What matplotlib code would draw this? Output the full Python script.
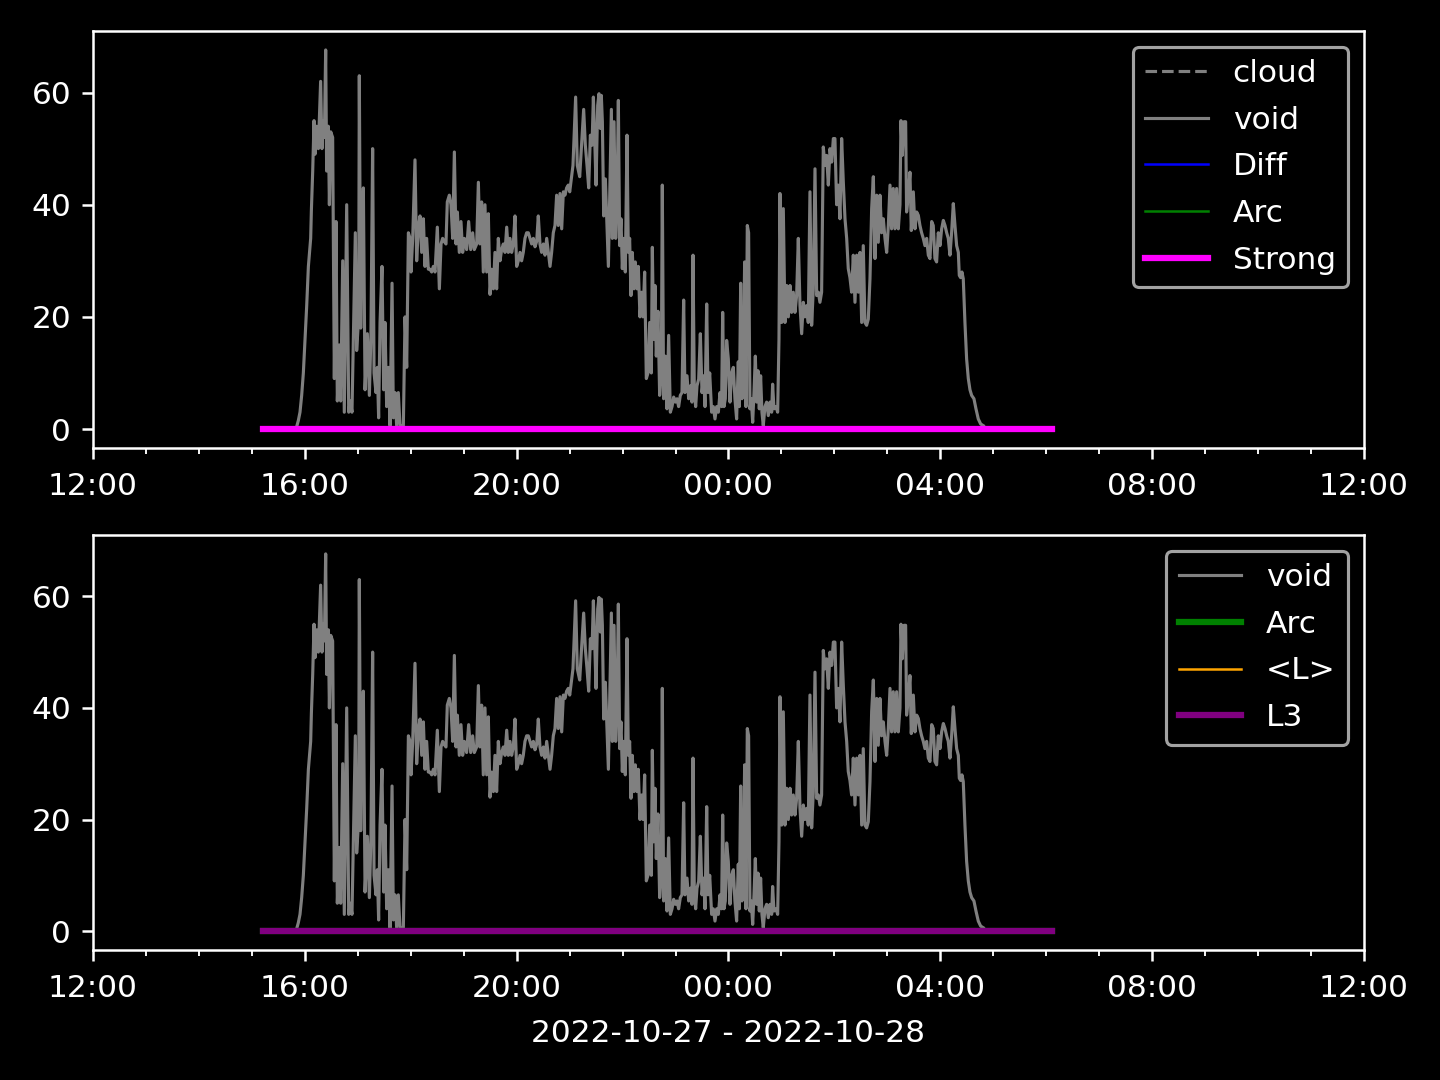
import numpy as np
import matplotlib
matplotlib.use("Agg")
import matplotlib.pyplot as plt
import matplotlib.dates as mdates

plt.style.use("dark_background")

# ---- data: minutes after 2022-10-27 12:00 and "void" values ----
t_seg1 = [230.7, 232.6, 234.5, 236.4, 238.3, 240.2, 242.1, 244.0, 246.6, 247.4, 248.9, 250.4, 251.5,
          253.4, 255.3, 257.9, 259.4, 261.0, 262.1, 263.6, 264.7, 266.6, 267.8, 269.3, 271.5, 273.4,
          275.3, 276.8, 279.1, 280.6, 282.9, 284.7, 287.4, 289.7, 291.5, 293.4, 295.7, 297.2, 298.7,
          301.0, 301.7, 303.3, 304.4, 306.3, 308.2, 310.8, 313.1, 314.9, 316.8, 318.4, 320.6, 322.1,
          323.6, 325.2, 327.4, 329.3, 330.8, 332.7, 334.6, 336.5, 338.8, 340.3, 342.2, 344.0, 345.9,
          347.8, 351.6, 353.5, 355.4, 357.3, 359.2, 360.3, 362.2, 364.8, 366.7, 368.6, 370.5, 372.4,
          374.3, 376.1, 378.0, 379.9]
v_seg1 = [0.4, 1.5, 3, 6, 10, 16, 22, 29, 34, 39, 46, 55, 49,
          54, 50, 62, 50, 55, 52, 67.6, 46, 54, 40, 53, 52, 9,
          37, 5, 15, 5, 30, 3, 40, 3, 5, 3, 23, 35, 14,
          20, 63, 18, 34, 43, 7, 17, 6, 17, 50, 10, 6.5, 11,
          2, 19, 29, 7, 19, 4, 11, 0.6, 26, 2, 6.5, 0.6, 6.5,
          0.6, 0.6, 20, 11, 35, 34, 28, 34, 48, 30, 36, 38, 31.5,
          37.5, 29, 34, 28.5]

t_seg2 = [381.8, 383.7, 385.6, 387.5, 390.1, 392.4, 394.3, 396.1, 397.7, 399.9, 401.4, 403.7, 405.6,
          407.5, 409.4, 411.3, 412.8, 415.0, 416.9, 418.8, 420.7, 423.3, 425.6, 427.9, 430.1, 432.0,
          434.7, 436.6, 438.4, 440.3, 442.2, 444.1, 446.0, 447.9, 449.8, 451.7, 453.6, 455.4, 457.3,
          459.2, 461.1, 463.0, 464.9, 466.8, 468.7, 470.5, 472.4, 474.3, 476.2, 478.1, 480.0, 481.9,
          483.8, 485.6, 487.5, 489.4, 491.3, 493.2, 495.1, 497.0, 498.9, 500.8, 502.7, 504.5, 506.4,
          508.3, 510.2, 512.1, 514.0, 515.9, 517.8, 519.6, 521.5, 523.4, 525.3, 527.2, 529.1, 531.0,
          532.9, 534.7, 536.6, 538.5]
v_seg2 = [28.5, 28, 29, 28, 36, 25, 33, 34, 33.5, 33, 40.5, 41.7, 40,
          34, 49.4, 33, 38.7, 31.5, 37, 31.5, 34, 32, 37, 32, 35, 32,
          33, 44, 33, 40.5, 28, 40, 28, 38.4, 24, 28.5, 25, 31.5, 25,
          34, 30, 32, 33, 31.5, 36, 31.5, 34, 31.5, 33, 38, 29, 30,
          31.5, 30, 31.5, 34, 35, 35, 34, 33, 34, 32.5, 33.5, 38, 33,
          31.5, 33, 31, 34, 31.5, 29, 31.5, 35, 36.3, 41.7, 36.3, 42, 35.7,
          42.3, 41.7, 43, 43.5]

t_seg3 = [540.1, 541.9, 543.8, 546.8, 548.7, 551.4, 553.3, 555.9, 557.8, 559.7, 561.6, 563.5, 565.4,
          566.9, 568.4, 569.9, 571.8, 573.3, 574.8, 575.9, 577.1, 578.6, 580.5, 582.3, 583.9, 585.4,
          587.3, 588.4, 590.3, 592.2, 593.7, 595.2, 596.7, 598.2, 599.7, 601.2, 603.1, 605.0, 606.5,
          608.0, 609.5, 611.0, 612.9, 614.4, 616.3, 617.8, 619.7, 621.6, 623.1, 625.0, 626.9, 628.8,
          630.7, 632.6, 633.7, 635.2, 636.7, 638.2, 640.1, 642.0, 643.9, 645.0, 646.5, 648.4, 650.3,
          652.2, 654.1, 656.0, 657.9, 659.8, 661.7, 663.5, 665.4, 667.3, 669.2, 670.7, 673.0, 674.9,
          676.8, 678.6, 679.8, 681.3, 682.8, 684.3, 686.2, 688.1, 690.0, 691.9, 693.4, 695.3, 696.8]
v_seg3 = [42.3, 44.6, 47, 59.2, 47, 45, 50, 57, 50.6, 47, 43, 52.4, 50.6,
          59.2, 51.8, 43.5, 57.7, 59.8, 53.6, 59.5, 54.8, 38, 44.6, 36.3, 29, 41,
          57, 34, 54.8, 34, 40, 58.6, 32.7, 37.5, 28.6, 34, 28, 52.4, 31.5,
          34, 23.8, 31.5, 25, 29.8, 25, 29, 20, 24.4, 20, 28, 9, 10,
          19, 10, 32.4, 16, 25.6, 13, 21, 6, 10, 43.5, 5.4, 13, 3.6,
          16.7, 3, 4, 5.7, 4.8, 5.4, 4, 6, 6.5, 23, 6.5, 9.5, 5.4,
          7.7, 4.8, 31, 6.5, 4, 7.7, 8.9, 17, 6.5, 9.5, 4, 22.3, 6.5]

t_seg4 = [698.7, 700.9, 702.8, 704.7, 706.6, 708.5, 710.4, 712.2, 713.4, 714.9, 716.4, 717.9, 719.8,
          721.7, 723.6, 725.5, 727.3, 729.2, 731.1, 732.3, 733.8, 735.3, 736.8, 738.3, 739.8, 741.3,
          742.8, 744.3, 745.8, 747.4, 748.9, 750.4, 751.9, 753.4, 754.9, 756.4, 757.9, 759.4, 761.3,
          763.2, 765.1, 767.0, 768.9, 770.0, 771.5, 773.8, 775.7, 777.2, 778.3, 780.2, 782.1, 784.0,
          785.9, 787.8, 789.7, 791.5, 793.4, 795.3, 797.2, 799.1, 801.0, 802.9, 804.8, 806.6, 808.5,
          810.4, 812.3, 814.2, 816.1, 818.0, 819.9, 821.8, 823.6, 825.5, 827.4, 829.3, 831.2, 833.1,
          835.0, 836.9, 838.8, 840.6, 842.5, 844.4, 846.3, 848.2, 850.1, 852.0, 853.9, 855.7]
v_seg4 = [10, 3, 4, 1.8, 4, 3, 6.5, 4, 20.8, 4, 5.4, 15.8, 12.5,
          4.8, 10, 11, 5.4, 1.8, 12, 4, 26, 5.4, 12, 29.8, 4, 36.3,
          35, 3.6, 5.4, 1.2, 6.5, 13, 4.8, 10.4, 3.6, 9.5, 3, 0.6, 4,
          4.8, 2.4, 4.8, 3, 8, 3.6, 4, 3, 16, 42, 19, 39.3, 19,
          25.6, 20, 25.6, 20.8, 24.4, 20.8, 23.8, 34, 22, 17, 22.6, 20, 22,
          19, 42.3, 18.5, 25, 46.4, 23.8, 24.4, 22.6, 24.4, 50.3, 47, 48.8, 43.5,
          50, 47.6, 51.8, 51.8, 40, 43.5, 37.5, 51.8, 44, 37.5, 34, 28.6]

t_seg5 = [857.6, 859.5, 861.4, 863.3, 865.2, 867.1, 869.0, 870.9, 872.7, 874.6, 876.5, 878.4, 880.3,
          882.2, 884.1, 886.0, 887.9, 889.7, 891.6, 893.5, 895.4, 897.3, 899.2, 901.1, 903.0, 904.8,
          906.7, 908.6, 910.5, 912.4, 914.3, 915.4, 916.9, 918.8, 920.7, 921.8, 923.7, 925.6, 927.1,
          929.4, 931.3, 933.2, 935.1, 936.9, 938.8, 940.7, 942.6, 944.5, 946.4, 948.3, 950.2, 952.0,
          953.9, 955.8, 957.7, 959.6, 961.5, 963.4, 965.3, 967.2, 969.0, 970.9, 972.8, 974.7, 976.6,
          978.5, 980.4, 981.5, 983.0, 984.5, 986.0, 987.9, 989.8, 991.7, 993.6, 995.5, 998.1, 1000.4,
          1003.0, 1005.7, 1008.7]
v_seg5 = [27, 24.4, 31, 22.6, 31, 24.4, 31.5, 19, 32.7, 19, 18.5, 19.6, 26.8,
          39.3, 45, 30.4, 41.7, 33.3, 41.7, 35, 37.5, 34, 31.5, 36.3, 43.5, 35.7,
          42.9, 35.7, 42.9, 35.7, 40, 55, 48.8, 54.8, 54.8, 38.7, 41.7, 45.8, 35.4,
          42.3, 35.7, 38.7, 38.1, 36.3, 35, 34, 32.7, 34, 31, 30.4, 37, 36.3,
          30.4, 29.8, 35, 32.7, 35.7, 37.2, 36.3, 35, 34, 31, 35, 40.2, 36.3,
          32.7, 31.5, 27.4, 27.0, 28, 26.8, 19, 12.5, 9, 7, 6, 5.4, 3.6,
          1.8, 0.9, 0.6]

# flat series (zero) span
flat_span_min = [193.0, 1086.0]
flat_values = [0.0, 0.0]

base = np.datetime64("2022-10-27T12:00")
def to_dt(mins):
    return base + (np.asarray(mins, dtype=float) * 60).astype("timedelta64[s]")

void_t = to_dt(t_seg1 + t_seg2 + t_seg3 + t_seg4 + t_seg5)
void_v = np.array(v_seg1 + v_seg2 + v_seg3 + v_seg4 + v_seg5)
flat_t = to_dt(flat_span_min)

fig = plt.figure(figsize=(6.4, 4.8), dpi=225)
ax1 = fig.add_axes([0.0646, 0.5852, 0.8826, 0.3861])
ax2 = fig.add_axes([0.0646, 0.1204, 0.8826, 0.3842])

# top panel
ax1.plot(flat_t, flat_values, color="gray", ls="--", lw=1, label="cloud")
ax1.plot(void_t, void_v, color="gray", lw=1, label="void")
ax1.plot(flat_t, flat_values, color="blue", lw=0.8, label="Diff")
ax1.plot(flat_t, flat_values, color="green", lw=0.8, label="Arc")
ax1.plot(flat_t, flat_values, color="magenta", lw=2, label="Strong")

# bottom panel
ax2.plot(void_t, void_v, color="gray", lw=1, label="void")
ax2.plot(flat_t, flat_values, color="green", lw=2, label="Arc")
ax2.plot(flat_t, flat_values, color="orange", lw=0.8, label="<L>")
ax2.plot(flat_t, flat_values, color="purple", lw=2, label="L3")

xmin = np.datetime64("2022-10-27T12:00")
xmax = np.datetime64("2022-10-28T12:00")
for ax in (ax1, ax2):
    ax.set_xlim(xmin, xmax)
    ax.xaxis.set_major_locator(mdates.HourLocator(byhour=range(0, 24, 4)))
    ax.xaxis.set_minor_locator(mdates.HourLocator())
    ax.xaxis.set_major_formatter(mdates.DateFormatter("%H:%M"))
    ax.tick_params(axis="x", which="major", pad=4.2)
    ax.set_yticks([0, 20, 40, 60])
    ax.legend(loc="upper right", labelspacing=0.565)

ax2.set_xlabel("2022-10-27 - 2022-10-28", labelpad=5)

fig.savefig("out.png", dpi=225)
